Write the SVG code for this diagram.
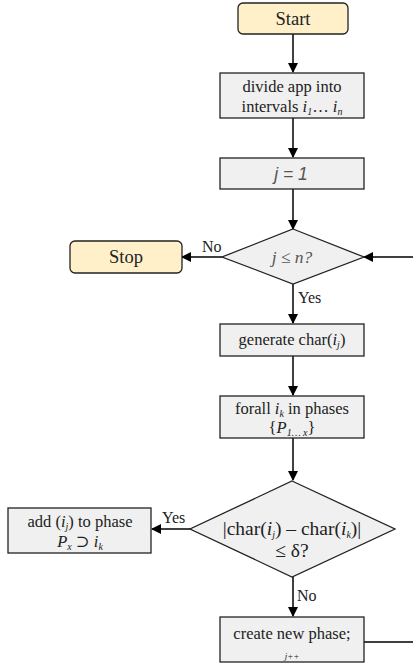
<svg xmlns="http://www.w3.org/2000/svg" width="413" height="667" viewBox="0 0 413 667">
<defs>
<marker id="ah" markerWidth="10" markerHeight="10" refX="9" refY="5" orient="auto" markerUnits="userSpaceOnUse">
<path d="M0,0 L10,5 L0,10 z" fill="#000"/>
</marker>
<style>
.term{fill:#fff0c9;stroke:#222;stroke-width:1.3}
.box{fill:#f0f0f0;stroke:#222;stroke-width:1.3}
.dia{fill:#f0f0f0;stroke:#222;stroke-width:1.3}
text{font-family:"Liberation Serif","DejaVu Serif",serif}
.t{font-size:16.5px;fill:#222;text-anchor:middle}
.big{font-size:18.5px}
.lbl{font-size:16px;fill:#222}
.m{font-style:italic}
.sub{font-size:10px;font-style:italic}
.c{stroke:#000;stroke-width:1.5;fill:none}
</style>
</defs>
<g id="connectors">
<line class="c" x1="293" y1="34" x2="293" y2="72" marker-end="url(#ah)"/>
<line class="c" x1="293" y1="118" x2="293" y2="157" marker-end="url(#ah)"/>
<line class="c" x1="293" y1="189" x2="293" y2="229" marker-end="url(#ah)"/>
<line class="c" x1="222" y1="257" x2="182" y2="257" marker-end="url(#ah)"/>
<line class="c" x1="293" y1="284" x2="293" y2="323" marker-end="url(#ah)"/>
<line class="c" x1="293" y1="356" x2="293" y2="395" marker-end="url(#ah)"/>
<line class="c" x1="293" y1="438" x2="293" y2="480" marker-end="url(#ah)"/>
<line class="c" x1="190" y1="529" x2="152" y2="529" marker-end="url(#ah)"/>
<line class="c" x1="293" y1="577" x2="293" y2="616" marker-end="url(#ah)"/>
<polyline class="c" points="364,642 414,642 414,257"/>
<line class="c" x1="414" y1="257" x2="364" y2="257" marker-end="url(#ah)"/>
<text class="lbl" x="202" y="252">No</text>
<text class="lbl" x="298" y="303">Yes</text>
<text class="lbl" x="162" y="523">Yes</text>
<text class="lbl" x="297" y="601">No</text>
</g>
<g id="start">
<rect class="term" x="238" y="3" width="110" height="31" rx="5"/>
<text class="t big" x="293" y="25">Start</text>
</g>
<g id="divide">
<rect class="box" x="220" y="73" width="144" height="45"/>
<text class="t" x="292" y="92">divide app into</text>
<text class="t" x="292" y="112">intervals <tspan class="m">i</tspan><tspan class="sub" dy="3">1</tspan><tspan dy="-3">… </tspan><tspan class="m">i</tspan><tspan class="sub" dy="3">n</tspan></text>
</g>
<g id="j1">
<rect class="box" x="220" y="158" width="144" height="31"/>
<text class="t" x="291" y="180" style="font-family:'Liberation Sans',sans-serif;font-style:italic;fill:#555;font-size:17.5px">j = 1</text>
</g>
<g id="cond1">
<polygon class="dia" points="293,229 364,257 293,284 222,257"/>
<text class="t m" x="292" y="263" style="fill:#555;font-size:17.5px">j ≤ n?</text>
</g>
<g id="stop">
<rect class="term" x="70" y="241" width="112" height="32" rx="5"/>
<text class="t big" x="126" y="263">Stop</text>
</g>
<g id="generate">
<rect class="box" x="220" y="324" width="144" height="32"/>
<text class="t" x="292" y="345">generate char(<tspan class="m">i</tspan><tspan class="sub" dy="3">j</tspan><tspan dy="-3">)</tspan></text>
</g>
<g id="forall">
<rect class="box" x="220" y="396" width="144" height="42"/>
<text class="t" x="292" y="414">forall <tspan class="m">i</tspan><tspan class="sub" dy="3">k</tspan><tspan dy="-3"> in phases</tspan></text>
<text class="t" x="292" y="433">{<tspan class="m">P</tspan><tspan class="sub" dy="3">1… x</tspan><tspan dy="-3">}</tspan></text>
</g>
<g id="cond2">
<polygon class="dia" points="292,481 395,529 292,577 190,529"/>
<text class="t" x="292" y="535" style="font-size:19.5px">|char(<tspan class="m">i</tspan><tspan class="sub" dy="3">j</tspan><tspan dy="-3">) – char(</tspan><tspan class="m">i</tspan><tspan class="sub" dy="3">k</tspan><tspan dy="-3">)|</tspan></text>
<text class="t" x="292" y="557" style="font-size:19.5px">≤ δ?</text>
</g>
<g id="add">
<rect class="box" x="8" y="508" width="143" height="45"/>
<text class="t" x="80" y="527">add (<tspan class="m">i</tspan><tspan class="sub" dy="3">j</tspan><tspan dy="-3">) to phase</tspan></text>
<text class="t" x="80" y="547"><tspan class="m">P</tspan><tspan class="sub" dy="3">x</tspan><tspan dy="-3"> ⊃ </tspan><tspan class="m">i</tspan><tspan class="sub" dy="3">k</tspan></text>
</g>
<g id="create">
<rect class="box" x="220" y="617" width="144" height="45"/>
<text class="t" x="292" y="639">create new phase;</text>
<text class="t m" x="292" y="659" style="font-size:9px">j++</text>
</g>
</svg>
